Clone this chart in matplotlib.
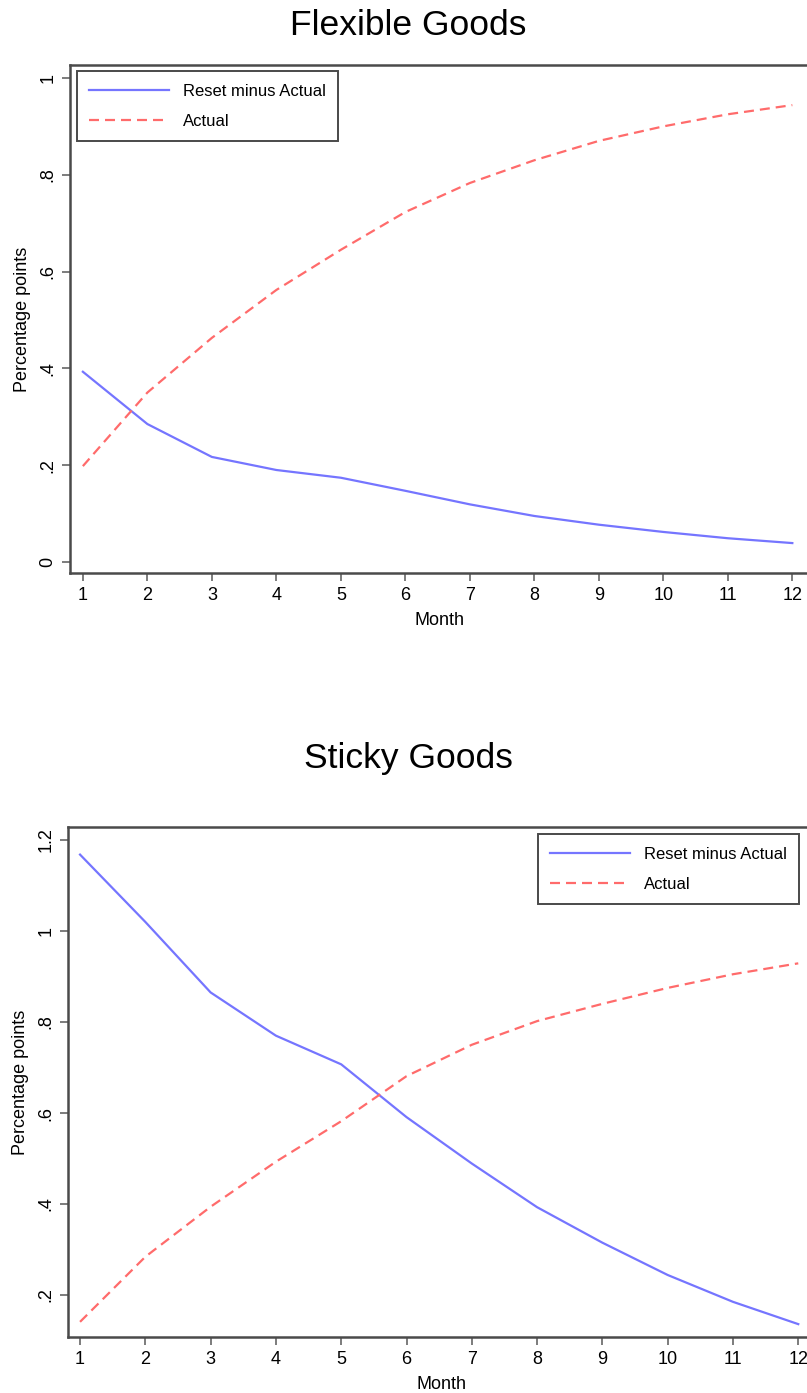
import numpy as np
import matplotlib.pyplot as plt

plt.rcParams['font.family'] = ['Liberation Sans', 'DejaVu Sans']

months = list(range(1, 13))

# flexible goods
flex_reset = [0.393, 0.285, 0.217, 0.190, 0.174, 0.147, 0.119, 0.095, 0.077, 0.062, 0.049, 0.039]
flex_actual = [0.198, 0.350, 0.463, 0.562, 0.645, 0.723, 0.783, 0.830, 0.870, 0.900, 0.925, 0.944]

# sticky goods
sticky_reset = [1.168, 1.020, 0.865, 0.770, 0.707, 0.591, 0.489, 0.393, 0.315, 0.244, 0.185, 0.136]
sticky_actual = [0.141, 0.284, 0.394, 0.493, 0.582, 0.681, 0.750, 0.802, 0.840, 0.875, 0.905, 0.929]

flex_yticks = [0, 0.2, 0.4, 0.6, 0.8, 1.0]
flex_ylabels = ['0', '.2', '.4', '.6', '.8', '1']
sticky_yticks = [0.2, 0.4, 0.6, 0.8, 1.0, 1.2]
sticky_ylabels = ['.2', '.4', '.6', '.8', '1', '1.2']

blue = '#7575ff'
red = '#ff6b6b'
frame = '#4a4a4a'

fig = plt.figure(figsize=(8.07, 13.93), dpi=100)
ax1 = fig.add_axes([0.0867, 0.5887, 0.9151, 0.3647])
ax2 = fig.add_axes([0.0843, 0.0402, 0.9251, 0.3661])


def draw(ax, reset, actual, yticks, ylabels, xlim, ylim, leg_anchor):
    ax.plot(months, reset, color=blue, lw=1.6, label='Reset minus Actual')
    ax.plot(months, actual, color=red, lw=1.6, dashes=(4.5, 2.7), label='Actual')
    ax.set_xlim(*xlim)
    ax.set_ylim(*ylim)
    ax.set_xticks(months)
    ax.set_yticks(yticks)
    ax.set_yticklabels(ylabels, rotation=90, va='center')
    ax.tick_params(labelsize=13, length=5.8, width=1.2, color='#666666', pad=4)
    ax.set_xlabel('Month', fontsize=13, labelpad=6)
    ax.set_ylabel('Percentage points', fontsize=13, labelpad=6)
    for s in ax.spines.values():
        s.set_color(frame)
        s.set_linewidth(1.8)
    leg = ax.legend(loc='upper left', bbox_to_anchor=leg_anchor, fontsize=12,
                    handlelength=4.75, handletextpad=0.84, labelspacing=0.9,
                    borderpad=0.75, borderaxespad=0, fancybox=False,
                    edgecolor=frame, framealpha=1)
    leg.get_frame().set_linewidth(1.4)


draw(ax1, flex_reset, flex_actual, flex_yticks, flex_ylabels,
     (0.8, 12.25), (-0.0227, 1.027), (0.0095, 0.988))
draw(ax2, sticky_reset, sticky_actual, sticky_yticks, sticky_ylabels,
     (0.816, 12.25), (0.1077, 1.2286), (0.6295, 0.986))

fig.text(0.5056, 1 - 35 / 1393, 'Flexible Goods', fontsize=25.5,
         ha='center', va='baseline')
fig.text(0.5056, 1 - 768 / 1393, 'Sticky Goods', fontsize=25.5,
         ha='center', va='baseline')

fig.savefig('out.png', dpi=100)
